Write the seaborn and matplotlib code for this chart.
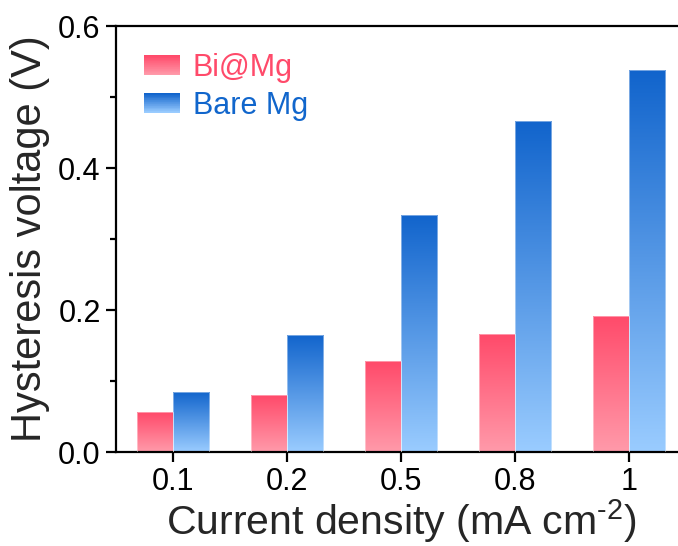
import numpy as np
import pandas as pd
import matplotlib
matplotlib.use("Agg")
import matplotlib.pyplot as plt
import seaborn as sns
from matplotlib.colors import LinearSegmentedColormap
from matplotlib.patches import Rectangle
from matplotlib.legend_handler import HandlerBase

categories = ["0.1", "0.2", "0.5", "0.8", "1"]
bi_mg = [0.056, 0.080, 0.128, 0.166, 0.192]
bare_mg = [0.085, 0.165, 0.334, 0.466, 0.538]
series = ["Bi@Mg", "Bare Mg"]

grad = {
    "Bi@Mg": ("#FF4A6A", "#FF9AAA"),
    "Bare Mg": ("#1164CC", "#9ACCFF"),
}
text_colors = {"Bi@Mg": "#FF4A6A", "Bare Mg": "#1166CC"}

df = pd.DataFrame({
    "density": categories * 2,
    "value": bi_mg + bare_mg,
    "sample": [series[0]] * len(categories) + [series[1]] * len(categories),
})

sns.set_theme(style="ticks")
plt.rcParams["font.family"] = ["Liberation Sans", "DejaVu Sans"]
plt.rcParams["mathtext.fontset"] = "custom"
plt.rcParams["mathtext.rm"] = "Liberation Sans"
plt.rcParams["mathtext.it"] = "Liberation Sans"

fig = plt.figure(figsize=(6.78, 5.46), dpi=100)
ax = fig.add_axes([116 / 678, 94 / 546, (686 - 116) / 678, (452 - 26) / 546])

sns.barplot(data=df, x="density", y="value", hue="sample", order=categories,
            hue_order=series, palette=[grad[s][0] for s in series],
            width=0.64, ax=ax, legend=False, saturation=1)

# gradient fill for each bar
n_cat = len(categories)
for i, patch in enumerate(ax.patches):
    s = series[i // n_cat]
    top, bot = grad[s]
    cmap = LinearSegmentedColormap.from_list(s, [bot, top])
    x, y = patch.get_x(), patch.get_y()
    w, h = patch.get_width(), patch.get_height()
    img = np.linspace(0, 1, 256).reshape(-1, 1)
    im = ax.imshow(img, cmap=cmap, origin="lower", aspect="auto",
                   extent=[x, x + w, y, y + h], zorder=2)
    im.set_clip_path(patch)
    patch.set_facecolor("none")
    patch.set_edgecolor((1, 1, 1, 0.5))
    patch.set_linewidth(0.6)
    patch.set_zorder(3)

ax.set_xlim(-0.5, 4.5)
ax.set_ylim(0, 0.6)
ax.set_yticks([0.0, 0.2, 0.4, 0.6])
ax.set_yticks([0.1, 0.3, 0.5], minor=True)
ax.set_yticklabels(["0.0", "0.2", "0.4", "0.6"])

for sp in ["left", "bottom", "top"]:
    ax.spines[sp].set_linewidth(1.6)
    ax.spines[sp].set_color("black")
ax.spines["right"].set_visible(False)

ax.tick_params(axis="both", which="major", direction="out", length=7, width=1.6,
               labelsize=22, color="black", labelcolor="black", pad=4)
ax.tick_params(axis="y", which="minor", direction="out", length=4, width=1.6, color="black")
ax.tick_params(axis="x", which="minor", bottom=False)

ax.set_xlabel(r"Current density (mA cm$^{\text{-2}}$)", fontsize=29.5, labelpad=0)
ax.set_ylabel("Hysteresis voltage (V)", fontsize=30, labelpad=6)


class GradientHandler(HandlerBase):
    def __init__(self, top, bot):
        super().__init__()
        self.top = top
        self.bot = bot

    def create_artists(self, legend, orig_handle, xdescent, ydescent, width,
                       height, fontsize, trans):
        cmap = LinearSegmentedColormap.from_list("g", [self.bot, self.top])
        n = 30
        arts = []
        for k in range(n):
            r = Rectangle((-xdescent, -ydescent + height * k / n), width,
                          height / n + 0.3, facecolor=cmap(k / (n - 1)),
                          edgecolor="none", transform=trans)
            arts.append(r)
        return arts


handles = [Rectangle((0, 0), 1, 1) for _ in series]
leg = ax.legend(handles, series, loc="upper left", bbox_to_anchor=(0.027, 0.965),
                frameon=False, fontsize=22, handlelength=1.2, handleheight=0.6,
                handletextpad=0.4, labelspacing=0.25, borderaxespad=0,
                handler_map={handles[0]: GradientHandler(*grad[series[0]]),
                             handles[1]: GradientHandler(*grad[series[1]])})
for t, s in zip(leg.get_texts(), series):
    t.set_color(text_colors[s])

fig.savefig("out.png", dpi=100)
